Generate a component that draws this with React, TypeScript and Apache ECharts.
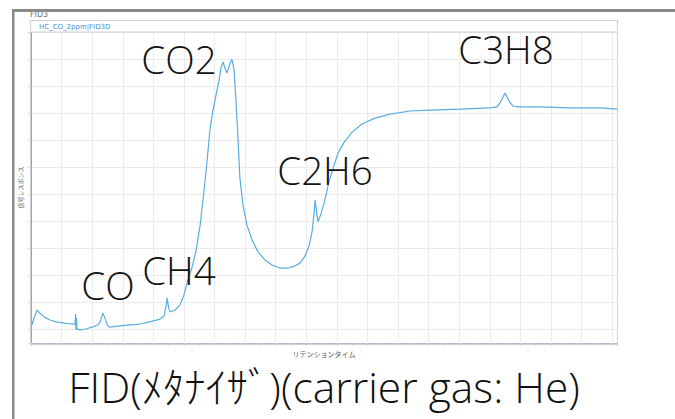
import React, { useEffect, useRef } from "react";
import * as echarts from "echarts";

// retention time (grid units) and detector response (%)
const retentionTime: number[] = [
  0.03, 0.1, 0.2, 0.29, 0.43, 0.62, 0.82, 1.08, 1.34, 1.44, 1.46, 1.47, 1.49, 1.5, 1.6, 1.8, 1.99, 2.19, 2.26, 2.35,
  2.42, 2.49, 2.58, 2.91, 3.24, 3.56, 3.89, 4.22, 4.35, 4.42, 4.45, 4.5, 4.55, 4.71, 4.87, 5.0, 5.13, 5.26, 5.4, 5.53,
  5.66, 5.76, 5.85, 5.95, 6.05, 6.15, 6.21, 6.28, 6.34, 6.41, 6.51, 6.57, 6.64, 6.7, 6.77, 6.83, 6.93, 7.06, 7.23, 7.42,
  7.65, 7.88, 8.14, 8.4, 8.63, 8.8, 8.96, 9.09, 9.19, 9.25, 9.29, 9.34, 9.38, 9.48, 9.61, 9.74, 9.88, 10.04, 10.24, 10.5,
  10.82, 11.25, 11.74, 12.39, 13.05, 14.03, 15.01, 15.24, 15.37, 15.5, 15.63, 15.76, 15.93, 16.64, 17.63, 18.61, 19.16,
];
const response: number[] = [
  5.8, 8.0, 10.6, 9.6, 8.4, 7.4, 6.8, 6.4, 6.1, 6.1, 9.3, 4.2, 8.0, 4.5, 4.2, 4.5, 5.1, 5.8, 6.8, 9.6,
  8.0, 5.8, 5.1, 5.5, 5.8, 6.1, 6.8, 7.7, 8.7, 12.2, 14.5, 11.3, 10.0, 10.6, 12.2, 15.4, 20.3, 24.1, 29.9, 37.9,
  49.2, 58.8, 68.5, 74.9, 79.7, 84.6, 88.4, 90.4, 88.4, 86.8, 90.0, 91.3, 87.8, 78.1, 65.3, 53.1, 44.4, 37.9, 33.1, 29.3,
  26.7, 25.1, 24.1, 24.1, 24.8, 25.7, 28.0, 31.2, 35.7, 41.2, 46.0, 42.1, 38.9, 41.5, 46.0, 51.8, 56.3, 61.1, 64.6, 67.8,
  70.4, 72.3, 73.6, 74.6, 74.9, 75.2, 75.6, 75.9, 77.8, 80.4, 77.8, 76.2, 75.9, 75.9, 75.6, 75.6, 75.2,
];

const peakLabels: string[] = ["CO2", "C3H8", "C2H6", "CH4", "CO"];
const caption = "FID(ﾒﾀﾅｲｻﾞ)(carrier gas: He)";
const headerTitle = "HC_CO_2ppm|FID3D";
const panelTitle = "FID3";
const xAxisName = "リテンションタイム";
const yAxisName = "信号レスポンス";

export default function App() {
  const ref = useRef<HTMLDivElement>(null);
  useEffect(() => {
    if (!ref.current) return;
    const chart = echarts.init(ref.current, undefined, { renderer: "svg" });
    const data = retentionTime.map((t, i) => [t, response[i]]);
    const bigFont = '"Open Sans", "Noto Sans", "Noto Sans CJK JP", sans-serif';
    const labelPos: [number, number][] = [
      [179, 59],
      [506, 49],
      [325, 170],
      [179, 270],
      [108, 285],
    ];
    chart.setOption({
      animation: false,
      backgroundColor: "#ffffff",
      grid: { left: 31, right: 58, top: 32, bottom: 76, containLabel: false },
      xAxis: {
        type: "value",
        min: 0,
        max: 19.16,
        interval: 1,
        name: xAxisName,
        nameLocation: "middle",
        nameGap: 7,
        nameTextStyle: { fontSize: 7, color: "#555", fontFamily: "Noto Sans CJK JP" },
        axisLine: { show: true, lineStyle: { color: "#b4b8cc", width: 1 } },
        axisTick: { show: true, length: 3, lineStyle: { color: "#d8d8d8" } },
        minorTick: { show: true, splitNumber: 2, length: 3, lineStyle: { color: "#d8d8d8" } },
        axisLabel: { show: false },
        splitLine: { show: true, lineStyle: { color: "#ebebeb", width: 1 } },
      },
      yAxis: [
        {
          type: "value",
          min: 0,
          max: 100,
          position: "left",
          name: yAxisName,
          nameLocation: "middle",
          nameRotate: 90,
          nameGap: 8,
          nameTextStyle: { fontSize: 6, color: "#666", fontFamily: "Noto Sans CJK JP" },
          axisLine: { show: true, lineStyle: { color: "#9ca2cc", width: 1 } },
          axisTick: { show: false },
          axisLabel: { show: false },
          splitLine: { show: false },
        },
        {
          type: "value",
          inverse: true,
          min: 0,
          max: 11.52,
          interval: 1,
          position: "left",
          axisLine: { show: false },
          axisTick: { show: true, length: 3, lineStyle: { color: "#d8d8d8" } },
          axisLabel: { show: false },
          splitLine: { show: true, lineStyle: { color: "#ebebeb", width: 1 } },
        },
      ],
      series: [
        {
          type: "line",
          data,
          yAxisIndex: 0,
          showSymbol: false,
          symbol: "none",
          smooth: false,
          lineStyle: { color: "#58ade3", width: 1.2 },
        },
      ],
      graphic: [
        {
          type: "rect",
          shape: { x: 30.5, y: 20.5, width: 587, height: 324 },
          style: { fill: "none", stroke: "#cdd0da", lineWidth: 1 },
          z: 1,
        },
        {
          type: "rect",
          shape: { x: 30.5, y: 20.5, width: 587, height: 11.5 },
          style: { fill: "#ffffff", stroke: "#cdd0da", lineWidth: 1 },
          z: 2,
        },
        {
          type: "text",
          x: 39,
          y: 26.5,
          style: {
            text: headerTitle,
            fontSize: 7,
            fill: "#4a90d8",
            fontFamily: "DejaVu Sans",
            verticalAlign: "middle",
          },
          z: 3,
        },
        {
          type: "text",
          x: 30,
          y: 14,
          style: { text: panelTitle, fontSize: 8, fill: "#777", fontFamily: "DejaVu Sans", verticalAlign: "middle" },
          z: 3,
        },
        {
          type: "rect",
          shape: { x: 12, y: 9, width: 663, height: 3 },
          style: { fill: "#8a8a8a" },
          z: 5,
        },
        {
          type: "rect",
          shape: { x: 12, y: 9, width: 2.5, height: 410 },
          style: { fill: "#8a8a8a" },
          z: 5,
        },
        ...peakLabels.map((t, i) => ({
          type: "text",
          x: labelPos[i][0],
          y: labelPos[i][1],
          style: {
            text: t,
            fontSize: 38.5,
            fill: "#111",
            fontFamily: bigFont,
            fontWeight: 300,
            align: "center",
            verticalAlign: "middle",
          },
          z: 6,
        })),
        {
          type: "text",
          x: 324,
          y: 386,
          style: {
            text: caption,
            fontSize: 42.5,
            fill: "#111",
            fontFamily: bigFont,
            fontWeight: 300,
            align: "center",
            verticalAlign: "middle",
          },
          z: 6,
        },
      ],
    });
    return () => chart.dispose();
  }, []);
  return <div ref={ref} style={{ position: "absolute", left: 0, top: 0, width: 675, height: 419 }} />;
}
